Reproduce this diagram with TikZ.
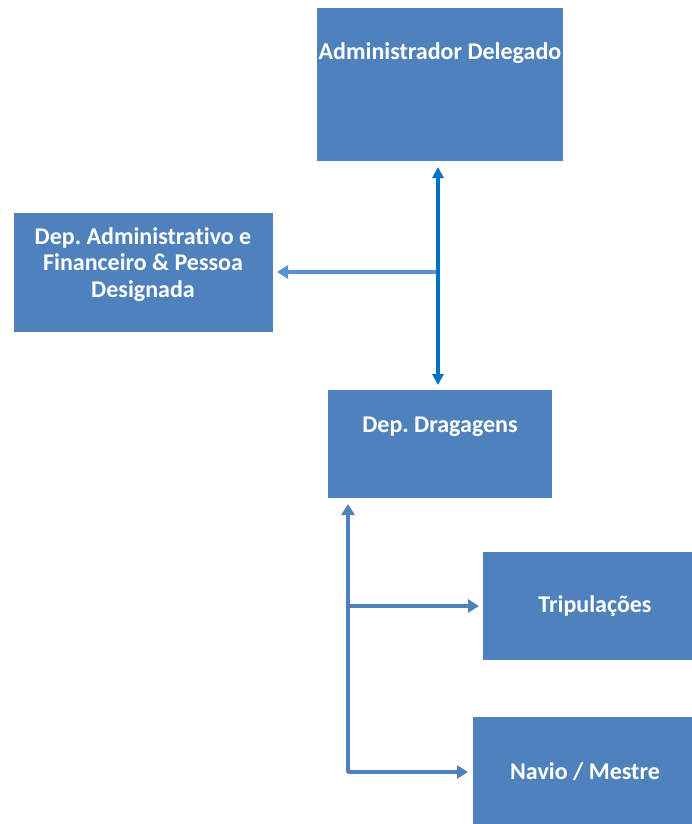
\documentclass[tikz,border=0pt]{standalone}
\usepackage{fontspec}
\setmainfont{Carlito}[Ligatures=CommonOff]
\usetikzlibrary{arrows.meta}
\frenchspacing
\definecolor{boxblue}{HTML}{4F81BD}
\definecolor{darkarrow}{HTML}{0070C0}
\definecolor{lightarrow}{HTML}{5B8FD4}
\tikzset{
  orgbox/.style={fill=boxblue, draw=none, inner sep=0pt},
  lbl/.style={text=white, font=\bfseries\fontsize{24}{26.5}\selectfont, align=center, inner sep=0pt},
  darkline/.style={draw=darkarrow, line width=4pt},
  lightline/.style={draw=lightarrow, line width=3.5pt, -{Triangle[length=11pt,width=13pt]}},
  midline/.style={draw=boxblue, line width=3.5pt, -{Triangle[length=11pt,width=13pt]}},
}
\begin{document}
\begin{tikzpicture}[x=1pt,y=-1pt]
\useasboundingbox (0,0) rectangle (692,824);
% boxes
\path[orgbox] (317,8) rectangle (563,161);
\path[orgbox] (14,213) rectangle (273,332);
\path[orgbox] (328,390) rectangle (552,498);
\path[orgbox] (483,552) rectangle (692,660);
\path[orgbox] (473,717) rectangle (692,824);
% labels
\node[lbl] (admt) at (440,53) {Administrador Delegado};
\node[lbl] (dept) at (143,264.5) {Dep. Administrativo e\\Financeiro \& Pessoa\\Designada};
\node[lbl] (dragt) at (440,427) {Dep. Dragagens};
\node[lbl] (tript) at (595,606.5) {Tripulações};
\node[lbl] (naviot) at (585,772) {Navio / Mestre};
% anchor coordinates
\coordinate (admbot) at (438,167);
\coordinate (dragtop) at (438,385);
\coordinate (junc) at (438,272);
\coordinate (depright) at (277,272);
\coordinate (dragbot) at (348,504);
\coordinate (corner) at (348,772);
\coordinate (tripj) at (348,606);
\coordinate (tripl) at (479,606);
\coordinate (naviol) at (468,772);
% connectors
\draw[lightline] (junc) -- (depright);
\draw[darkline, {Triangle[length=11pt,width=11pt]}-{Triangle[length=11pt,width=11pt]}] (admbot) -- (dragtop);
\draw[midline] (corner) -- (dragbot);
\draw[midline] (tripj) -- (tripl);
\draw[midline, line join=round] (tripj) -- (corner) -- (naviol);
\end{tikzpicture}
\end{document}
